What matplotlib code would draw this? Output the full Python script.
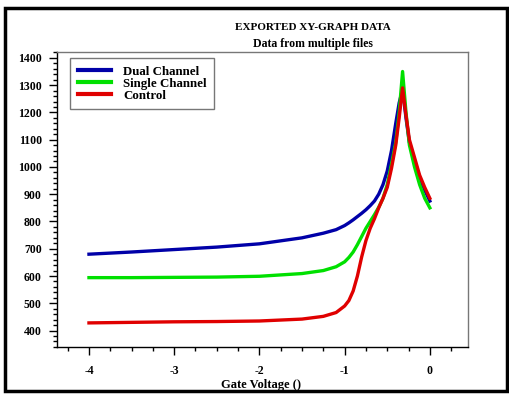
import matplotlib
matplotlib.use("Agg")
from matplotlib import pyplot as plt
from matplotlib.patches import Rectangle
from matplotlib.ticker import MultipleLocator

plt.rcParams['font.family'] = ['Liberation Serif', 'DejaVu Serif']
plt.rcParams['font.weight'] = 'bold'
plt.rcParams['axes.unicode_minus'] = False

# gate voltage samples
gate_v = [-4, -3.5, -3, -2.5, -2, -1.5, -1.25, -1.1, -1.0, -0.95, -0.9,
          -0.85, -0.8, -0.75, -0.7, -0.65, -0.6, -0.55, -0.5, -0.45, -0.4,
          -0.36, -0.32, -0.28, -0.24, -0.18, -0.12, -0.06, 0]

dual = [680, 688, 697, 706, 718, 740, 757, 770, 785, 795, 806,
        818, 830, 843, 858, 875, 900, 935, 985, 1060, 1160,
        1235, 1285, 1180, 1090, 1025, 960, 915, 875]
single = [594, 594, 595, 596, 599, 609, 620, 634, 652, 668, 688,
          715, 745, 775, 800, 825, 852, 885, 935, 1010, 1090,
          1200, 1350, 1200, 1080, 1000, 935, 885, 850]
control = [428, 430, 432, 433, 435, 442, 452, 466, 490, 510, 545,
           600, 670, 730, 775, 810, 850, 885, 925, 995, 1080,
           1180, 1290, 1190, 1100, 1035, 970, 925, 885]

labels = ["Dual Channel", "Single Channel", "Control"]
colors = ["#0000a8", "#00e000", "#e00000"]

fig = plt.figure(figsize=(5.09, 3.96), dpi=100)
ax = fig.add_axes([0.112, 0.124, 0.807, 0.745])

for y, lab, c in zip([dual, single, control], labels, colors):
    ax.plot(gate_v, y, color=c, lw=2.4, label=lab)

ax.set_xlim(-4.375, 0.445)
ax.set_ylim(340, 1422)
ax.xaxis.set_major_locator(MultipleLocator(1))
ax.xaxis.set_minor_locator(MultipleLocator(0.25))
ax.yaxis.set_major_locator(MultipleLocator(100))
ax.yaxis.set_minor_locator(MultipleLocator(20))
ax.tick_params(which='both', direction='out', top=False, right=False,
               labelsize=8.5, width=1)
ax.tick_params(which='major', length=6)
ax.tick_params(which='minor', length=3)
ax.tick_params(axis='x', pad=7)
ax.tick_params(axis='y', pad=5)
for s in ax.spines.values():
    s.set_linewidth(1)
ax.spines['top'].set_color('#777777')
ax.spines['right'].set_color('#777777')

leg = ax.legend(loc='upper left', bbox_to_anchor=(0.032, 0.98), fontsize=9.3,
                frameon=True, fancybox=False, edgecolor='#555555',
                handlelength=2.6, handletextpad=0.9, labelspacing=0.0,
                borderpad=0.6, borderaxespad=0)
leg.get_frame().set_linewidth(1)
for t in leg.get_texts():
    t.set_fontweight('bold')
for l in leg.get_lines():
    l.set_linewidth(3)

fig.text(313 / 509, 1 - 27 / 396, "EXPORTED XY-GRAPH DATA", ha='center',
         va='center', fontsize=8, fontweight='bold')
fig.text(313 / 509, 1 - 44 / 396, "Data from multiple files", ha='center',
         va='center', fontsize=8.5, fontweight='bold')
fig.text(261 / 509, 1 - 385 / 396, "Gate Voltage ()", ha='center',
         va='center', fontsize=9, fontweight='bold')

# outer frame
fig.patches.append(Rectangle((5 / 509, 5 / 396), 502 / 509, 383 / 396,
                             transform=fig.transFigure, fill=False,
                             edgecolor='black', lw=2.5))

fig.savefig("out.png", dpi=100)
